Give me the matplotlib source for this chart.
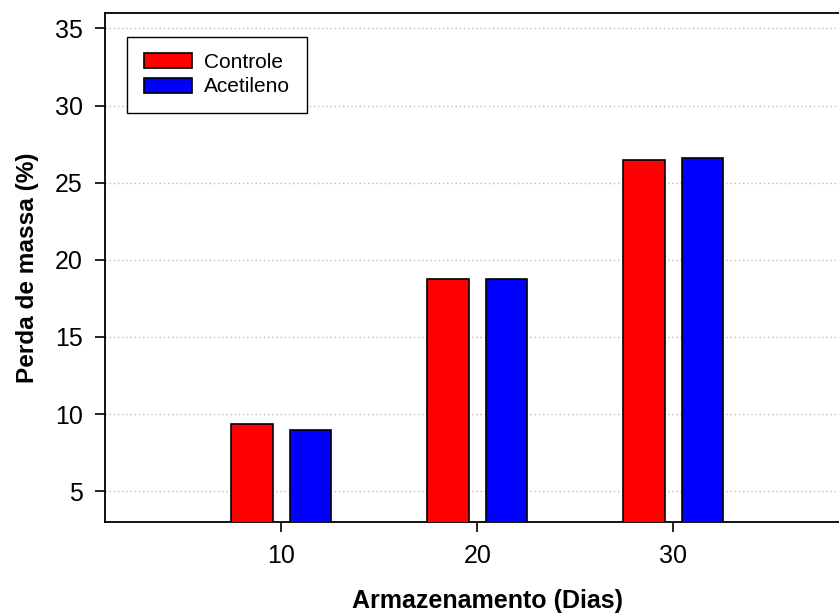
import numpy as np
import matplotlib.pyplot as plt

dias = [10, 20, 30]
controle = [9.35, 18.75, 26.45]
acetileno = [8.95, 18.75, 26.62]
series_names = ['Controle', 'Acetileno']
yticks = [5, 10, 15, 20, 25, 30, 35]

plt.rcParams['font.family'] = ['Liberation Sans', 'DejaVu Sans']

fig = plt.figure(figsize=(8.39, 6.16), dpi=100)
W, H = 839, 616
ax = fig.add_axes([105 / W, (616 - 522) / H, 39 * 19.6 / W, (522 - 13) / H])

x = np.array(dias, dtype=float)
w = 2.1
ax.bar(x - 1.5, controle, width=w, color='#ff0000', edgecolor='black', linewidth=1.2,
       label=series_names[0], zorder=3)
ax.bar(x + 1.5, acetileno, width=w, color='#0000ff', edgecolor='black', linewidth=1.2,
       label=series_names[1], zorder=3)

ax.set_xlim(1, 40)
ax.set_ylim(3, 36)
ax.set_xticks(dias)
ax.set_yticks(yticks)
ax.yaxis.grid(True, linestyle=(0, (1, 2)), color='#bbbbbb', linewidth=1, zorder=0)
ax.tick_params(direction='out', length=7, width=1.2, labelsize=18)
ax.tick_params(axis='x', pad=9)
ax.tick_params(axis='y', pad=9)
for s in ax.spines.values():
    s.set_linewidth(1.3)

ax.set_xlabel('Armazenamento (Dias)', fontsize=18, fontweight='bold', labelpad=15)
ax.set_ylabel('Perda de massa (%)', fontsize=17.6, fontweight='bold', labelpad=11.5)

leg = ax.legend(loc='upper left', bbox_to_anchor=((127 - 105) / (39 * 19.6), (522 - 36.5) / (522 - 13)),
                fontsize=15, frameon=True, fancybox=False, edgecolor='black',
                handlelength=2.3, handleheight=0.72, borderpad=0.8, labelspacing=0.25,
                handletextpad=0.6, borderaxespad=0, framealpha=1)
leg.get_frame().set_linewidth(1.0)

fig.savefig('out.png', dpi=100)
